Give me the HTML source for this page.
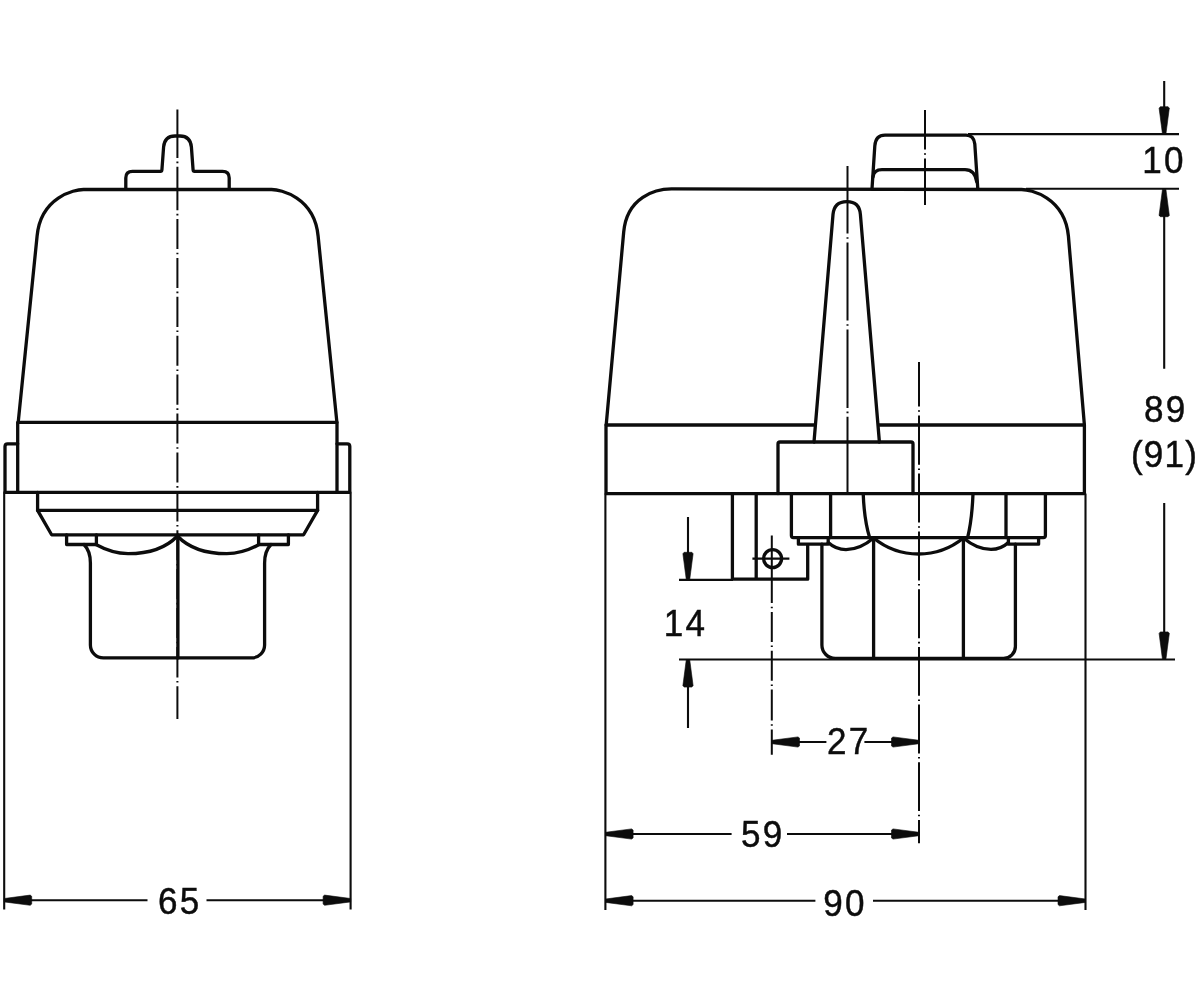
<!DOCTYPE html>
<html lang="en">
<head>
<meta charset="utf-8">
<title>Dimension drawing</title>
<style>
  html, body { margin: 0; padding: 0; background: #ffffff; }
  body { width: 1200px; height: 1000px; overflow: hidden; }
  svg { display: block; will-change: transform; }
  .k { fill: none; stroke: #0c0c0c; stroke-width: 3.3; stroke-linejoin: round; stroke-linecap: round; }
  .t { fill: none; stroke: #0c0c0c; stroke-width: 2.1; stroke-linecap: butt; }
  .c { fill: none; stroke: #0c0c0c; stroke-width: 2; stroke-linecap: butt; }
  .a { fill: #0c0c0c; stroke: #0c0c0c; stroke-width: 0.6; stroke-linejoin: round; }
  text { font-family: "Liberation Sans", sans-serif; font-size: 36.3px; fill: #0c0c0c; stroke: #0c0c0c; stroke-width: 0.45px; text-anchor: middle; letter-spacing: 2.4px; }
</style>
</head>
<body>
<svg width="1200" height="1000" viewBox="0 0 1200 1000">
<rect width="1200" height="1000" fill="#ffffff"/>

<!-- ============ LEFT VIEW ============ -->
<g id="left-view">
  <path class="c" d="M177.4 109.6V158.0M177.4 161.6V163.2M177.4 166.8V210.2M177.4 213.8V215.4M177.4 219.0V249.1M177.4 252.7V254.3M177.4 257.9V288.0M177.4 291.6V293.2M177.4 296.8V326.9M177.4 330.5V332.1M177.4 335.7V365.8M177.4 369.4V371.0M177.4 374.6V404.7M177.4 408.3V409.9M177.4 413.5V443.6M177.4 447.2V448.8M177.4 452.4V482.5M177.4 486.1V487.7M177.4 491.3V521.4M177.4 525.0V526.6M177.4 530.2V560.3M177.4 563.9V565.5M177.4 569.1V599.2M177.4 602.8V604.4M177.4 608.0V638.1M177.4 641.7V643.3M177.4 646.9V677.4M177.4 681.0V682.6M177.4 686.2V719.0"/>
  <!-- top nub + flange -->
  <path class="k" d="M125.8 189.4V178Q125.8 171.4 132.5 171.4H160.5Q161.8 171.4 161.9 170L163.6 147Q164.6 136 175 136H180Q190.4 136 191.4 147L193.1 170Q193.2 171.4 194.5 171.4H222.5Q229.2 171.4 229.2 178V189.4"/>
  <!-- dome -->
  <path class="k" d="M18.2 422.3L37.1 236C40.8 197 74.5 189.5 83.5 189.5H271.5C280.5 189.5 314.4 197 318.1 236L336.9 422.3"/>
  <!-- band -->
  <path class="k" d="M17.7 422.3H337V492.3H17.7Z"/>
  <!-- side tabs -->
  <path class="k" d="M17.7 443.8H7.6Q5 443.8 5 446.4V492.3"/>
  <path class="k" d="M337 443.8H347.2Q349.8 443.8 349.8 446.4V492.3"/>
  <path class="k" d="M5 492.3H17.7M337 492.3H349.8"/>
  <!-- ring under band -->
  <path class="k" d="M37.6 492.4V510.4H317.6V492.4"/>
  <path class="k" d="M37.6 510.4L51.6 534.8H303.6L317.6 510.4"/>
  <!-- small washers -->
  <path class="k" d="M66.6 534.8V544.5H96.4V534.8"/>
  <path class="k" d="M258.6 534.8V544.5H288.4V534.8"/>
  <!-- scallops -->
  <path class="k" d="M96.4 544.8Q112 553.4 128 553.7C148 553.7 166 548 177.4 536C188.8 548 206.8 553.7 226.8 553.7Q242.8 553.4 258.6 544.8"/>
  <!-- lower body -->
  <path class="k" d="M84 544.5Q90.4 551 90.4 563V644.9A13 13 0 0 0 103.4 657.9H251.6A13 13 0 0 0 264.6 644.9V563Q264.6 551 271 544.5"/>
  <path class="k" d="M177.9 535V657.9"/>
  <!-- extension lines -->
  <path class="t" d="M4.2 492.4V909.6M350.6 492.4V909.6"/>
  <!-- dimension 65 -->
  <path class="t" d="M30 900.2H147.5M206.5 900.2H325"/>
  <path class="a" d="M4.2 898.5L30.2 895.1L31.7 896.3L31.7 904.1L30.2 905.3L4.2 901.9Z"/><path class="a" d="M350.6 898.5L324.6 895.1L323.1 896.3L323.1 904.1L324.6 905.3L350.6 901.9Z"/>
  <text transform="translate(179.8 914.3) scale(0.965 1)">65</text>
</g>

<!-- ============ RIGHT VIEW ============ -->
<g id="right-view">
  <!-- centre lines -->
  <path class="c" d="M925.0 110.0V149.6M925.0 153.2V154.8M925.0 158.4V205.0"/>
  <path class="c" d="M847.5 166.0V233.6M847.5 237.2V238.8M847.5 242.4V320.6M847.5 324.2V325.8M847.5 329.4V408.0M847.5 411.6V413.2M847.5 416.8V493.6"/>
  <path class="c" d="M919.0 362.0V406.6M919.0 410.2V411.8M919.0 415.4V464.8M919.0 468.4V470.0M919.0 473.6V522.6M919.0 526.2V527.8M919.0 531.4V580.4M919.0 584.0V585.6M919.0 589.2V638.2M919.0 641.8V643.4M919.0 647.0V695.8M919.0 699.4V701.0M919.0 704.6V753.4M919.0 757.0V758.6M919.0 762.2V811.1M919.0 814.7V816.3M919.0 819.9V843.3"/>
  <path class="c" d="M771.8 535.6V603.1M771.8 606.7V608.3M771.8 611.9V641.9M771.8 645.5V647.1M771.8 650.7V680.8M771.8 684.4V686.0M771.8 689.6V720.6M771.8 724.2V725.8M771.8 729.4V754.8"/>
  <path class="t" d="M752.4 558.6H789.4"/>
  <!-- cap -->
  <path class="k" d="M872 189L874.8 146Q875.6 135.2 885 135.2H966Q973.8 135.2 974.8 144L977.8 189"/>
  <path class="k" d="M873 177Q873.8 169.6 882 169.6H965Q975 169.6 976.8 182"/>
  <!-- dome -->
  <path class="k" d="M606.2 425L623.7 232C626.9 197 655.5 188.9 671.5 188.9L1021.5 189.5C1030.5 189.5 1064.6 197 1068.4 236L1084.4 425"/>
  <!-- fin -->
  <path class="k" d="M814 442L833 214.5C833.8 205.8 838.6 201.6 846.8 201.6C855 201.6 859.8 205.8 860.4 214.5L879.4 442"/>
  <!-- band -->
  <path class="k" d="M814 425H606V493.6H1084.4V425H879.2"/>
  <!-- box on band -->
  <path class="k" d="M778 493.6V444Q778 442 780 442H911Q913 442 913 444V493.6"/>
  <!-- bracket -->
  <path class="k" d="M732.4 493.6V579.2H807.7V545M756.2 493.6V579.2"/>
  <circle class="k" cx="772.6" cy="558.6" r="9"/>
  <!-- nut -->
  <path class="k" d="M791.4 493.6V535.6Q791.4 537.6 793.4 537.6H1043.4Q1045.4 537.6 1045.4 535.6V493.6"/>
  <path class="k" d="M830.6 493.6V537.6M1006 493.6V537.6"/>
  <path class="k" d="M863.2 493.6Q864.2 520 869.6 537.6M973 493.6Q972 520 967.6 537.6"/>
  <!-- washers -->
  <path class="k" d="M798.4 537.6V544.2H828.2V537.6M1008.4 537.6V544.2H1038.6V537.6"/>
  <!-- scallops -->
  <path class="k" d="M828.2 542.5Q836 549.6 846 549.6Q860 549.6 873.6 538A71 71 0 0 0 963.4 538Q977 549.4 991 549.4Q1001 549.4 1008.4 542.5"/>
  <!-- hex body -->
  <path class="k" d="M821.9 544.2V645A13.4 13.4 0 0 0 835.3 658.4H1003.6A11.8 11.8 0 0 0 1015.4 646.6V544.2"/>
  <path class="k" d="M873.6 537.6V658.4M963.4 537.6V658.4"/>
  <!-- extension lines -->
  <path class="t" d="M605.4 493.6V910M1085.5 493.6V910"/>
  <path class="t" d="M968 134.1H1179M1026 188.8H1179"/>
  <path class="t" d="M679 659.5H1175M679 579.9H733"/>
  <!-- dimension 10 / 89 -->
  <path class="t" d="M1164.2 81V108M1164.2 215V368.8M1164.2 503V633"/>
  <path class="a" d="M1162.5 134.2L1159.1 108.2L1160.3 106.7L1168.1 106.7L1169.3 108.2L1165.9 134.2Z"/><path class="a" d="M1162.5 189.2L1159.1 215.2L1160.3 216.7L1168.1 216.7L1169.3 215.2L1165.9 189.2Z"/><path class="a" d="M1162.5 659.4L1159.1 633.4L1160.3 631.9L1168.1 631.9L1169.3 633.4L1165.9 659.4Z"/>
  <text transform="translate(1164.0 173.0) scale(0.965 1)">10</text>
  <text transform="translate(1165.8 422.3) scale(0.965 1)">89</text>
  <text transform="translate(1164.6 467.0) scale(0.965 1)" style="letter-spacing:1.3px">(91)</text>
  <!-- dimension 14 -->
  <path class="t" d="M688 517V555M688 686V728"/>
  <path class="a" d="M686.3 579.8L682.9 553.8L684.1 552.3L691.9 552.3L693.1 553.8L689.7 579.8Z"/><path class="a" d="M686.3 659.6L682.9 685.6L684.1 687.1L691.9 687.1L693.1 685.6L689.7 659.6Z"/>
  <text transform="translate(685.6 636.0) scale(0.965 1)">14</text>
  <!-- dimension 27 -->
  <path class="t" d="M798 742H826.4M864.4 742H893"/>
  <path class="a" d="M772.0 740.3L798.0 736.9L799.5 738.1L799.5 745.9L798.0 747.1L772.0 743.7Z"/><path class="a" d="M919.0 740.3L893.0 736.9L891.5 738.1L891.5 745.9L893.0 747.1L919.0 743.7Z"/>
  <text transform="translate(848.7 754.4) scale(0.965 1)">27</text>
  <!-- dimension 59 -->
  <path class="t" d="M632 834H731.6M787 834H893"/>
  <path class="a" d="M605.6 832.3L631.6 828.9L633.1 830.1L633.1 837.9L631.6 839.1L605.6 835.7Z"/><path class="a" d="M919.0 832.3L893.0 828.9L891.5 830.1L891.5 837.9L893.0 839.1L919.0 835.7Z"/>
  <text transform="translate(762.7 846.6) scale(0.965 1)">59</text>
  <!-- dimension 90 -->
  <path class="t" d="M632 900.7H815.4M873 900.7H1059"/>
  <path class="a" d="M605.6 899.0L631.6 895.6L633.1 896.8L633.1 904.6L631.6 905.8L605.6 902.4Z"/><path class="a" d="M1085.5 899.0L1059.5 895.6L1058.0 896.8L1058.0 904.6L1059.5 905.8L1085.5 902.4Z"/>
  <text transform="translate(845.0 915.6) scale(0.965 1)">90</text>
</g>
</svg>
</body>
</html>
